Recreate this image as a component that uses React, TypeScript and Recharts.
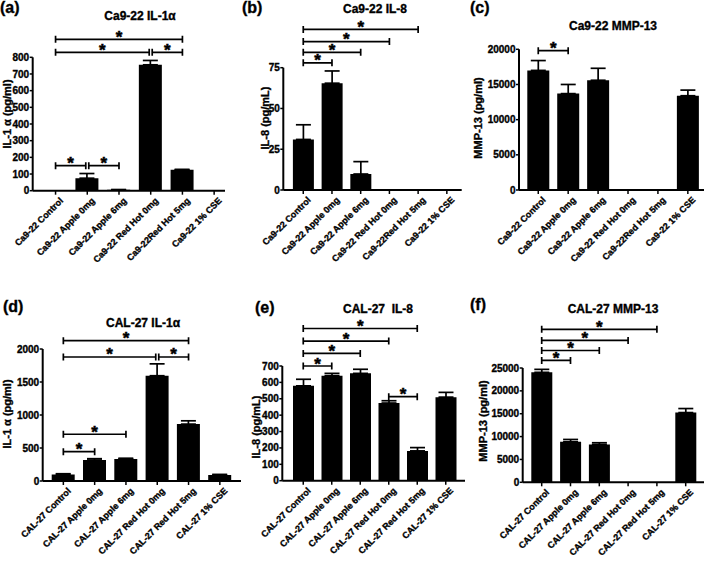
import React from 'react';
import { BarChart, Bar, XAxis, YAxis, ErrorBar, ReferenceLine } from 'recharts';

document.body.style.margin = '0';

const FONT = 'Arial, "Liberation Sans", Helvetica, sans-serif';

// categories
const caCats = ['Ca9-22 Control', 'Ca9-22 Apple 0mg', 'Ca9-22 Apple 6mg', 'Ca9-22 Red Hot 0mg', 'Ca9-22Red Hot 5mg', 'Ca9-22 1% CSE'];
const calCats = ['CAL-27 Control', 'CAL-27 Apple 0mg', 'CAL-27 Apple 6mg', 'CAL-27 Red Hot 0mg', 'CAL-27 Red Hot 5mg', 'CAL-27 1% CSE'];

// means and SEM
const caIl1a = [0, 75, 5, 755, 125, 0];
const caIl1aErr = [0, 28, 2, 26, 3, 0];
const caIl8 = [31, 65.5, 9.8, 0, 0, 0];
const caIl8Err = [9, 7.5, 7.6, 0, 0, 0];
const caMmp13 = [17000, 13700, 15600, 0, 0, 13400];
const caMmp13Err = [1400, 1300, 1700, 0, 0, 800];
const calIl1a = [100, 318, 335, 1595, 862, 90];
const calIl1aErr = [10, 20, 10, 180, 50, 10];
const calIl8 = [579, 641, 655, 474, 182, 510];
const calIl8Err = [40, 14, 25, 14, 20, 29];
const calMmp13 = [24050, 8870, 8280, 0, 0, 15250];
const calMmp13Err = [650, 500, 370, 0, 0, 880];

// y ticks
const ticksA = [0, 100, 200, 300, 400, 500, 600, 700, 800];
const ticksB = [0, 25, 50, 75];
const ticksC = [0, 5000, 10000, 15000, 20000];
const ticksD = [0, 500, 1000, 1500, 2000];
const ticksE = [0, 100, 200, 300, 400, 500, 600, 700];
const ticksF = [0, 5000, 10000, 15000, 20000, 25000];

// significance brackets: from / to category index, height in data units
type Br = { from: number; to: number; level: number; gapL?: boolean; gapR?: boolean };
const sigA: Br[] = [
  { from: 0, to: 4, level: 908 },
  { from: 0, to: 3, level: 830, gapR: true },
  { from: 3, to: 4, level: 830, gapL: true },
  { from: 0, to: 1, level: 150, gapR: true },
  { from: 1, to: 2, level: 150, gapL: true },
];
const sigB: Br[] = [
  { from: 0, to: 4, level: 98.5 },
  { from: 0, to: 3, level: 91 },
  { from: 0, to: 2, level: 84.4 },
  { from: 0, to: 1, level: 78 },
];
const sigC: Br[] = [{ from: 0, to: 1, level: 19800 }];
const sigD: Br[] = [
  { from: 0, to: 4, level: 2126 },
  { from: 0, to: 3, level: 1879, gapR: true },
  { from: 3, to: 4, level: 1879, gapL: true },
  { from: 0, to: 2, level: 708 },
  { from: 0, to: 1, level: 445 },
];
const sigE: Br[] = [
  { from: 0, to: 4, level: 929 },
  { from: 0, to: 3, level: 852 },
  { from: 0, to: 2, level: 777 },
  { from: 0, to: 1, level: 700 },
  { from: 3, to: 4, level: 513 },
];
const sigF: Br[] = [
  { from: 0, to: 4, level: 33460 },
  { from: 0, to: 3, level: 31030 },
  { from: 0, to: 2, level: 28830 },
  { from: 0, to: 1, level: 26660 },
];

const W = 709;
const H = 563;

const panels = [
  { cats: caCats, vals: caIl1a, errs: caIl1aErr, ticks: ticksA, sig: sigA, box: { l: 32.7, r: 225, t: 57.3, b: 190.7 }, pad: { left: 7, right: -5 }, bar: 23 },
  { cats: caCats, vals: caIl8, errs: caIl8Err, ticks: ticksB, sig: sigB, box: { l: 283.3, r: 461.7, t: 67.7, b: 190 }, pad: { left: 5.6, right: 0.5 }, bar: 21 },
  { cats: caCats, vals: caMmp13, errs: caMmp13Err, ticks: ticksC, sig: sigC, box: { l: 519, r: 704, t: 49.3, b: 190 }, pad: { left: 4.3, right: 1.2 }, bar: 22 },
  { cats: calCats, vals: calIl1a, errs: calIl1aErr, ticks: ticksD, sig: sigD, box: { l: 42.7, r: 241, t: 349, b: 481 }, pad: { left: 5, right: 5.5 }, bar: 23 },
  { cats: calCats, vals: calIl8, errs: calIl8Err, ticks: ticksE, sig: sigE, box: { l: 282.3, r: 465, t: 366, b: 480.7 }, pad: { left: 6.7, right: 5 }, bar: 21 },
  { cats: calCats, vals: calMmp13, errs: calMmp13Err, ticks: ticksF, sig: sigF, box: { l: 522.7, r: 704, t: 368, b: 482.3 }, pad: { left: 4.6, right: 3.9 }, bar: 21 },
];

const titles = [
  { text: 'Ca9-22 IL-1α', x: 140, y: 15.5 },
  { text: 'Ca9-22 IL-8', x: 375, y: 8.7 },
  { text: 'Ca9-22 MMP-13', x: 613, y: 26 },
  { text: 'CAL-27 IL-1α', x: 143, y: 323 },
  { text: 'CAL-27  IL-8', x: 378, y: 309 },
  { text: 'CAL-27 MMP-13', x: 613, y: 309 },
];

const letters = [
  { text: '(a)', x: 0, y: 8 },
  { text: '(b)', x: 242, y: 8 },
  { text: '(c)', x: 470, y: 8 },
  { text: '(d)', x: 3, y: 306.7 },
  { text: '(e)', x: 255, y: 307.5 },
  { text: '(f)', x: 470, y: 305 },
];

const yLabels = [
  { text: 'IL-1 α (pg/ml)', x: 7, y: 114 },
  { text: 'IL-8 (pg/mL)', x: 265, y: 117.5 },
  { text: 'MMP-13 (pg/ml)', x: 477.7, y: 117.5 },
  { text: 'IL-1 α (pg/ml)', x: 6.7, y: 414 },
  { text: 'IL-8 (pg/mL)', x: 256, y: 427 },
  { text: 'MMP-13 (pg/ml)', x: 483, y: 421 },
];

function XTick(props: any) {
  const { x, y, payload } = props;
  return (
    <text
      transform={`translate(${x + 3.5},${y}) rotate(-45)`}
      textAnchor="end"
      dy={6.5}
      fontSize={9}
      fontWeight="bold"
      fontFamily={FONT}
      fill="#000"
      stroke="#000"
      strokeWidth={0.35}
    >
      {payload.value}
    </text>
  );
}

function Bracket(props: any) {
  const { x1, x2, y1, gapL, gapR } = props;
  const a = Math.min(x1, x2) + (gapL ? 1.5 : 0);
  const b = Math.max(x1, x2) - (gapR ? 1.5 : 0);
  const y = y1;
  return (
    <g>
      <path
        d={`M${a},${y}H${b}M${a},${y - 3.5}V${y + 3.5}M${b},${y - 3.5}V${y + 3.5}`}
        stroke="#000"
        strokeWidth={1.7}
        fill="none"
      />
      <text
        x={(a + b) / 2}
        y={y + 3.5}
        textAnchor="middle"
        fontSize={17}
        fontWeight="bold"
        fontFamily={FONT}
        fill="#000"
        stroke="#000"
        strokeWidth={0.5}
      >
        *
      </text>
    </g>
  );
}

function Panel({ p }: { p: (typeof panels)[number] }) {
  const data = p.cats.map((c, i) => ({ name: c, v: p.vals[i], e: [0, p.errs[i]] }));
  const max = p.ticks[p.ticks.length - 1];
  return (
    <div style={{ position: 'absolute', left: 0, top: 0 }}>
      <BarChart
        width={W}
        height={H}
        data={data}
        barSize={p.bar}
        margin={{ top: p.box.t, left: p.box.l - 10, right: W - p.box.r, bottom: H - p.box.b - 60 }}
      >
        <XAxis
          dataKey="name"
          height={60}
          interval={0}
          padding={p.pad}
          tick={<XTick />}
          tickSize={4}
          tickMargin={2}
          axisLine={{ stroke: '#000', strokeWidth: 2 }}
          tickLine={{ stroke: '#000', strokeWidth: 1.5 }}
        />
        <YAxis
          width={10}
          domain={[0, max]}
          ticks={p.ticks}
          interval={0}
          allowDataOverflow
          tickSize={3}
          tickMargin={0.5}
          tick={{ fontSize: 10, fontWeight: 'bold', fill: '#000', fontFamily: FONT, stroke: '#000', strokeWidth: 0.35 }}
          axisLine={{ stroke: '#000', strokeWidth: 2 }}
          tickLine={{ stroke: '#000', strokeWidth: 1.5 }}
        />
        <Bar dataKey="v" fill="#000" isAnimationActive={false}>
          <ErrorBar dataKey="e" width={7.5} stroke="#000" strokeWidth={1.7} direction="y" />
        </Bar>
        {p.sig.map((s, i) => (
          <ReferenceLine
            key={i}
            ifOverflow="visible"
            segment={[
              { x: p.cats[s.from], y: s.level },
              { x: p.cats[s.to], y: s.level },
            ]}
            shape={(sp: any) => <Bracket {...sp} gapL={s.gapL} gapR={s.gapR} />}
          />
        ))}
      </BarChart>
    </div>
  );
}

const txt: React.CSSProperties = {
  position: 'absolute',
  fontFamily: FONT,
  fontWeight: 'bold',
  color: '#000',
  lineHeight: 1,
  whiteSpace: 'pre',
  WebkitTextStroke: '0.35px #000',
};

export default function App() {
  return (
    <div style={{ position: 'relative', width: W, height: H, background: '#fff', overflow: 'hidden' }}>
      {panels.map((p, i) => (
        <Panel key={i} p={p} />
      ))}
      {titles.map((t, i) => (
        <div key={'t' + i} style={{ ...txt, fontSize: 12, left: t.x, top: t.y, transform: 'translate(-50%, -50%)' }}>
          {t.text}
        </div>
      ))}
      {letters.map((t, i) => (
        <div key={'l' + i} style={{ ...txt, fontSize: 16, left: t.x, top: t.y, transform: 'translate(0, -50%)' }}>
          {t.text}
        </div>
      ))}
      {yLabels.map((t, i) => (
        <div key={'y' + i} style={{ ...txt, fontSize: 11, left: t.x, top: t.y, transform: 'translate(-50%, -50%) rotate(-90deg)' }}>
          {t.text}
        </div>
      ))}
    </div>
  );
}
